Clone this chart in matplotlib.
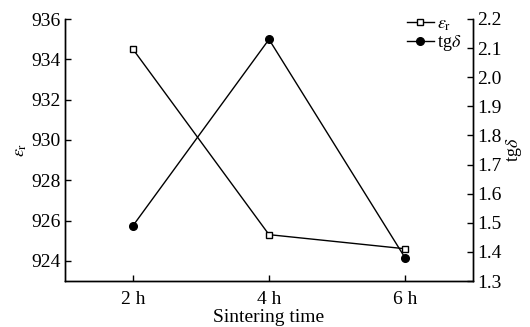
import matplotlib as mpl
mpl.use('agg')
import matplotlib.pyplot as plt

plt.rcParams['font.family'] = ['Liberation Serif', 'DejaVu Serif']
plt.rcParams['mathtext.fontset'] = 'stix'

times = ['2 h', '4 h', '6 h']
eps_r = [934.5, 925.3, 924.6]
tgd = [1.49, 2.13, 1.38]

fig = plt.figure(figsize=(5.3, 3.27), dpi=100)
ax = fig.add_axes([65/530, 1-281/327, 408/530, 262/327])
ax2 = ax.twinx()

x = list(range(len(times)))
l1, = ax.plot(x, eps_r, color='black', lw=1.0, marker='s', markersize=5,
              markerfacecolor='white', markeredgecolor='black', markeredgewidth=1.0,
              label=r'$\varepsilon_\mathrm{r}$', zorder=3)
l2, = ax2.plot(x, tgd, color='black', lw=1.0, marker='o', markersize=5.5,
               label=r'tg$\delta$')

ax.set_xlim(-0.5, 2.5)
ax.set_ylim(923, 936)
ax.set_yticks([924, 926, 928, 930, 932, 934, 936])
ticks2 = [1.3, 1.4, 1.5, 1.6, 1.7, 1.8, 1.9, 2.0, 2.1, 2.2]
ax2.set_ylim(1.3, 2.2)
ax2.set_yticks(ticks2)
ax2.set_yticklabels(['%.1f' % v for v in ticks2])
ax.set_xticks(x)
ax.set_xticklabels(times)

for a in (ax, ax2):
    a.spines['top'].set_visible(False)
    a.tick_params(direction='in', length=4, width=1, labelsize=14, pad=3)
    for s in a.spines.values():
        s.set_linewidth(1)
ax.tick_params(axis='x', pad=7)

ax.set_xlabel('Sintering time', fontsize=14, labelpad=1)
ax.set_ylabel(r'$\varepsilon_\mathrm{r}$', fontsize=13, labelpad=2)
ax2.set_ylabel(r'tg$\delta$', fontsize=13, labelpad=2)

ax.legend(handles=[l1, l2], loc='upper right', frameon=False, fontsize=13,
          handlelength=1.5, handletextpad=0.2, labelspacing=0.0,
          borderaxespad=0.0, bbox_to_anchor=(0.99, 1.04))

plt.savefig('out.png', dpi=100)
